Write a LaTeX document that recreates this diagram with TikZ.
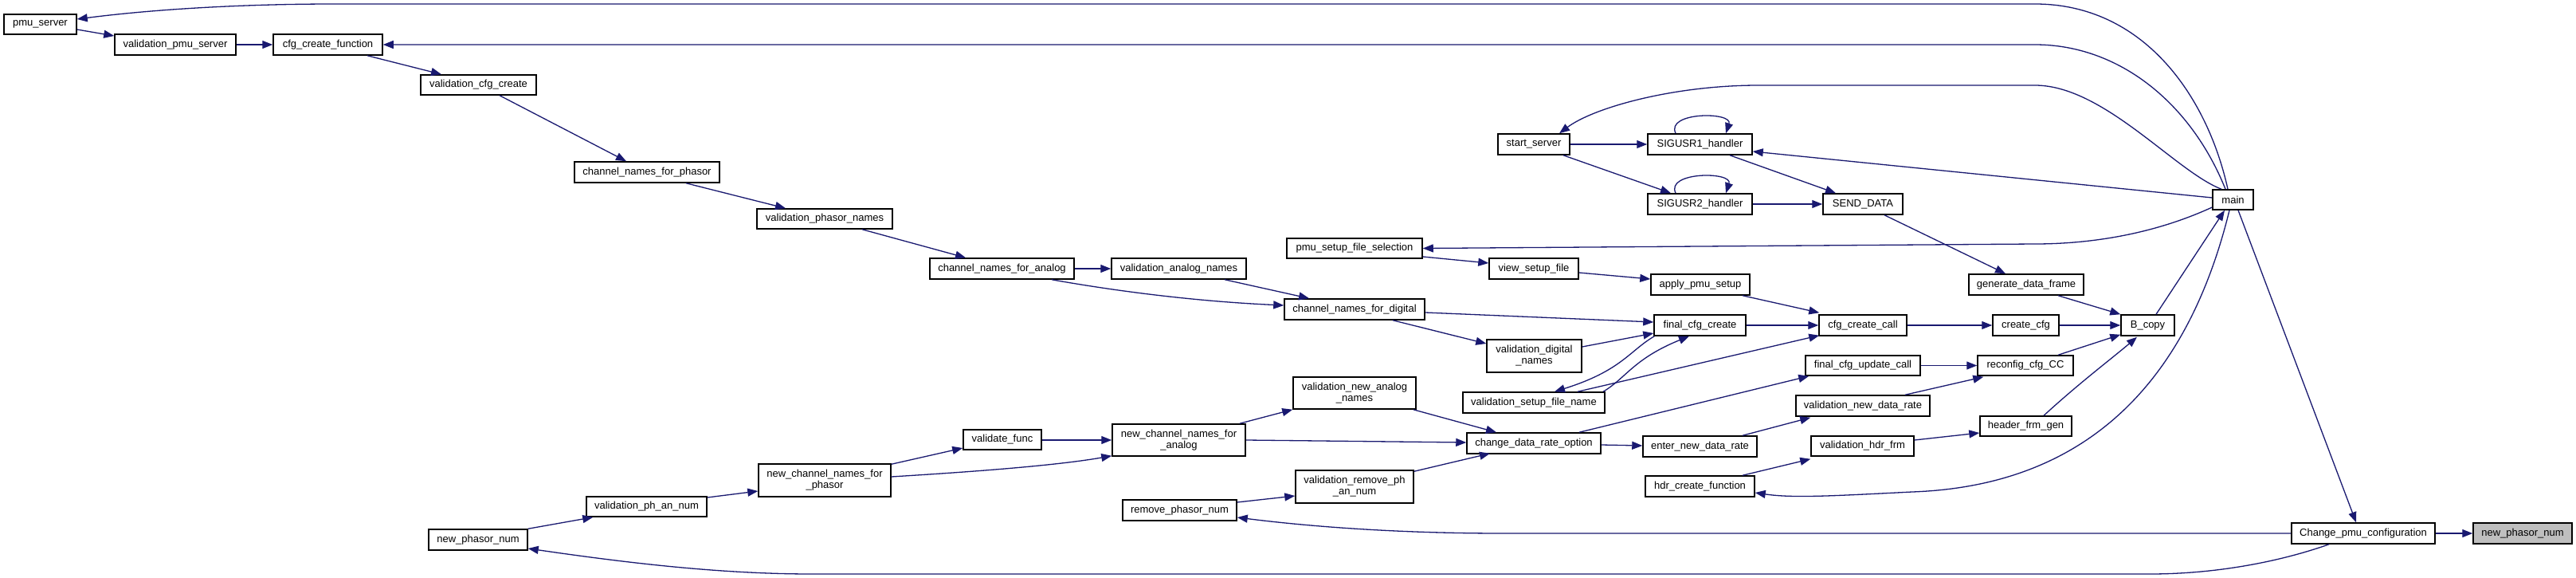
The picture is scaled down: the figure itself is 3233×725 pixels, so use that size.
\documentclass[tikz,border=0pt]{standalone}
\usepackage{fontspec}
\newfontfamily\dfont{Liberation Sans}
\usetikzlibrary{arrows.meta,calc}
\definecolor{edgeblue}{RGB}{25,25,112}
\definecolor{greyfill}{RGB}{191,191,191}
\begin{document}
\begin{tikzpicture}[x=1pt,y=-1pt,
  box/.style={draw=black, fill=white, line width=1.5pt, inner sep=0pt, align=center,
    font=\dfont\fontsize{13}{14}\selectfont},
  conn/.style={draw=edgeblue, line width=1.3pt, -{Triangle[length=13pt,width=10pt]}}]
\fill[white] (0,0) rectangle (3233,725);
\useasboundingbox (0,0) rectangle (3233,725);
% nodes
\node[box, minimum width=91pt, minimum height=25pt] (ps) at (50.5,30.5) {pmu\_server};
\node[box, minimum width=152pt, minimum height=26pt] (vps) at (220,56) {validation\_pmu\_server};
\node[box, minimum width=137pt, minimum height=26pt] (ccf) at (411.5,56) {cfg\_create\_function};
\node[box, minimum width=145pt, minimum height=25pt] (vcc) at (600.5,106.5) {validation\_cfg\_create};
\node[box, minimum width=182pt, minimum height=26pt] (cnp) at (812,216) {channel\_names\_for\_phasor};
\node[box, minimum width=170pt, minimum height=25pt] (vpn) at (1035,274.5) {validation\_phasor\_names};
\node[box, minimum width=181pt, minimum height=26pt] (cna) at (1257.5,337) {channel\_names\_for\_analog};
\node[box, minimum width=169pt, minimum height=26pt] (van) at (1479.5,337) {validation\_analog\_names};
\node[box, minimum width=176pt, minimum height=26pt] (cnd) at (1700,388) {channel\_names\_for\_digital};
\node[box, minimum width=119pt, minimum height=41pt] (vdn) at (1925.5,446.5) {validation\_digital\\\_names};
\node[box, minimum width=115pt, minimum height=26pt] (fcc) at (2133.5,408) {final\_cfg\_create};
\node[box, minimum width=110pt, minimum height=26pt] (ccc) at (2338,408) {cfg\_create\_call};
\node[box, minimum width=178pt, minimum height=26pt] (vsf) at (1925,505) {validation\_setup\_file\_name};
\node[box, minimum width=154pt, minimum height=40pt] (vna) at (1700,493) {validation\_new\_analog\\\_names};
\node[box, minimum width=168pt, minimum height=26pt] (cdr) at (1925,556) {change\_data\_rate\_option};
\node[box, minimum width=143pt, minimum height=26pt] (endr) at (2133.5,560) {enter\_new\_data\_rate};
\node[box, minimum width=137pt, minimum height=26pt] (hcf) at (2133.5,610) {hdr\_create\_function};
\node[box, minimum width=148pt, minimum height=41pt] (vrp) at (1700,610.5) {validation\_remove\_ph\\\_an\_num};
\node[box, minimum width=144pt, minimum height=25pt] (fcu) at (2338,458.5) {final\_cfg\_update\_call};
\node[box, minimum width=168pt, minimum height=26pt] (vnd) at (2338,509) {validation\_new\_data\_rate};
\node[box, minimum width=129pt, minimum height=25pt] (vhf) at (2337.5,559.5) {validation\_hdr\_frm};
\node[box, minimum width=90pt, minimum height=26pt] (ss) at (1925,181) {start\_server};
\node[box, minimum width=131pt, minimum height=26pt] (s1) at (2133.5,181) {SIGUSR1\_handler};
\node[box, minimum width=131pt, minimum height=26pt] (s2) at (2133.5,256) {SIGUSR2\_handler};
\node[box, minimum width=100pt, minimum height=26pt] (sd) at (2338,256) {SEND\_DATA};
\node[box, minimum width=170pt, minimum height=25pt] (psf) at (1700,311.5) {pmu\_setup\_file\_selection};
\node[box, minimum width=112pt, minimum height=26pt] (vsu) at (1925,337) {view\_setup\_file};
\node[box, minimum width=124pt, minimum height=26pt] (aps) at (2134,357) {apply\_pmu\_setup};
\node[box, minimum width=51pt, minimum height=25pt] (main) at (2802.5,250.5) {main};
\node[box, minimum width=144pt, minimum height=26pt] (gdf) at (2543,357) {generate\_data\_frame};
\node[box, minimum width=67pt, minimum height=26pt] (bc) at (2695.5,408) {B\_copy};
\node[box, minimum width=83pt, minimum height=26pt] (cc) at (2542.5,408) {create\_cfg};
\node[box, minimum width=120pt, minimum height=25pt] (rcc) at (2542,458.5) {reconfig\_cfg\_CC};
\node[box, minimum width=115pt, minimum height=25pt] (hfg) at (2542.5,534.5) {header\_frm\_gen};
\node[box, minimum width=180pt, minimum height=26pt] (cpc) at (2966,669) {Change\_pmu\_configuration};
\node[box, fill=greyfill, minimum width=124pt, minimum height=26pt] (npn) at (3166,669) {new\_phasor\_num};
\node[box, minimum width=151pt, minimum height=25pt] (vpa) at (811.5,635.5) {validation\_ph\_an\_num};
\node[box, minimum width=166pt, minimum height=41pt] (ncp) at (1035,602.5) {new\_channel\_names\_for\\\_phasor};
\node[box, minimum width=98pt, minimum height=25pt] (vf) at (1258,551.5) {validate\_func};
\node[box, minimum width=167pt, minimum height=40pt] (nca) at (1479.5,552) {new\_channel\_names\_for\\\_analog};
\node[box, minimum width=143pt, minimum height=26pt] (rpn) at (1480.5,640) {remove\_phasor\_num};
\node[box, minimum width=124pt, minimum height=26pt] (npl) at (600,677) {new\_phasor\_num};
% edges from main
\draw[conn] ($(main.north)+(-6.5,0)$) .. controls (2770,120) and (2690,5) .. (2554,5) -- (420,5) .. controls (300,5) and (190,12) .. ($(ps.east)+(0,-6.5)$);
\draw[conn] ($(main.north)+(-9.5,0)$) .. controls (2750,130) and (2660,56) .. (2554,56) -- (ccf.east);
\draw[conn] ($(main.north)+(-14.5,0)$) .. controls (2730,215) and (2640,107) .. (2554,107) -- (2207,107) .. controls (2100,107) and (2000,135) .. ($(ss.north)+(32,0)$);
\draw[conn] ($(main.west)+(0,-2.5)$) -- ($(s1.east)+(0,9)$);
\draw[conn] ($(main.west)+(0,9.5)$) .. controls (2700,295) and (2620,306) .. (2554,306) -- (psf.east);
\draw[conn] ($(bc.north)+(10.5,0)$) -- ($(main.south)+(-10.5,0)$);
\draw[conn] ($(main.south)+(6.5,0)$) -- ($(cpc.north)+(-9,0)$);
\draw[conn] ($(main.south)+(-4.5,0)$) .. controls (2740,500) and (2600,610) .. (2400,617) .. controls (2300,622) and (2250,625) .. ($(hcf.east)+(0,8)$);
% Change_pmu_configuration
\draw[conn] (cpc.east) -- (npn.west);
\draw[conn] (cpc.west) -- (1886,669) .. controls (1750,669) and (1640,660) .. ($(rpn.east)+(0,9)$);
\draw[conn] ($(cpc.south)+(-43,0)$) .. controls (2860,705) and (2780,720) .. (2698,720) -- (1019,720) .. controls (900,720) and (780,705) .. ($(npl.east)+(0,11)$);
% left chain
\draw[conn] ($(ps.east)+(0,6.5)$) -- ($(vps.west)+(0,-11)$);
\draw[conn] (vps.east) -- (ccf.west);
\draw[conn] ($(ccf.south)+(49.5,0)$) -- ($(vcc.north)+(-46.5,0)$);
\draw[conn] ($(vcc.south)+(26.5,0)$) -- ($(cnp.north)+(-26,0)$);
\draw[conn] ($(cnp.south)+(49,0)$) -- ($(vpn.north)+(-49,0)$);
\draw[conn] ($(vpn.south)+(47,0)$) -- ($(cna.north)+(-45.5,0)$);
\draw[conn] (cna.east) -- (van.west);
\draw[conn] ($(cna.south)+(62.5,0)$) .. controls (1400,365) and (1500,378) .. ($(cnd.west)+(0,-5)$);
\draw[conn] ($(van.south)+(57.5,0)$) -- ($(cnd.north)+(-57,0)$);
\draw[conn] ($(cnd.east)+(0,4)$) -- ($(fcc.west)+(0,-4)$);
\draw[conn] ($(cnd.south)+(48,0)$) -- ($(vdn.west)+(0,-15.5)$);
\draw[conn] ($(vdn.east)+(0,-11.5)$) -- ($(fcc.west)+(0,10)$);
\draw[conn] ($(fcc.south west)+(1,0)$) .. controls (2045,440) and (2035,465) .. ($(vsf.north)+(26,0)$);
\draw[conn] ($(vsf.north)+(87,0)$) .. controls (2040,475) and (2050,450) .. ($(fcc.south)+(-13.5,0)$);
\draw[conn] ($(vsf.north)+(55,0)$) -- ($(ccc.south west)+(1,-1)$);
\draw[conn] (fcc.east) -- (ccc.west);
\draw[conn] ($(aps.south)+(53,0)$) -- ($(ccc.north west)+(1,-2)$);
\draw[conn] ($(vsu.east)+(0,5)$) -- ($(aps.west)+(0,-7)$);
\draw[conn] ($(psf.east)+(0,10.5)$) -- ($(vsu.west)+(0,-7)$);
\draw[conn] (ccc.east) -- (cc.west);
\draw[conn] (cc.east) -- (bc.west);
\draw[conn] ($(gdf.south)+(40,0)$) -- (bc.north west);
\draw[conn] ($(sd.south)+(27,0)$) -- ($(gdf.north)+(-26,0)$);
\draw[conn] ($(s1.south)+(37.5,0)$) -- ($(sd.north)+(-34,0)$);
\draw[conn] (s2.east) -- (sd.west);
\draw[conn] (ss.east) -- (s1.west);
\draw[conn] ($(ss.south)+(37,0)$) -- ($(s2.north)+(-36.5,0)$);
\draw[conn] ($(s1.north)+(-30.5,0)$) .. controls (2090,140) and (2175,140) .. ($(s1.north)+(32.5,0)$);
\draw[conn] ($(s2.north)+(-30.5,0)$) .. controls (2090,215) and (2175,215) .. ($(s2.north)+(32.5,0)$);
\draw[conn] ($(rcc.north)+(41,0)$) -- ($(bc.south west)+(0,-2)$);
\draw[conn] (fcu.east) -- (rcc.west);
\draw[conn] ($(vnd.north)+(53,0)$) -- ($(rcc.south west)+(8,1)$);
\draw[conn] ($(hfg.north)+(22.5,0)$) .. controls (2610,480) and (2650,450) .. ($(bc.south)+(-13.5,1)$);
\draw[conn] ($(vhf.east)+(0,-7.5)$) -- ($(hfg.west)+(0,8.5)$);
\draw[conn] ($(hcf.north)+(53.5,0)$) -- ($(vhf.south west)+(0,3)$);
\draw[conn] ($(endr.north)+(53.5,0)$) -- ($(vnd.south west)+(19,1)$);
\draw[conn] ($(cdr.east)+(0,2)$) -- ($(endr.west)+(0,-1)$);
\draw[conn] ($(cdr.north)+(57,0)$) -- ($(fcu.south west)+(5,0)$);
\draw[conn] ($(vna.south east)+(-4,0)$) -- ($(cdr.north)+(-47,0)$);
\draw[conn] (nca.east) -- ($(cdr.west)+(0,-1)$);
\draw[conn] ($(vrp.north east)+(0,2)$) -- ($(cdr.south)+(-55,-1)$);
\draw[conn] ($(nca.north east)+(-8,0)$) -- (vna.south west);
\draw[conn] ($(vf.east)+(0,0.5)$) -- (nca.west);
\draw[conn] ($(ncp.north east)+(0,1)$) -- ($(vf.west)+(0,10.5)$);
\draw[conn] ($(ncp.east)+(0,-4.5)$) .. controls (1200,593) and (1320,585) .. ($(nca.south west)+(0,-1)$);
\draw[conn] ($(vpa.east)+(0,-11.5)$) -- ($(ncp.west)+(0,13.5)$);
\draw[conn] (npl.north east) -- ($(vpa.south west)+(9,0)$);
\draw[conn] ($(rpn.east)+(0,-10)$) -- ($(vrp.west)+(0,11.5)$);
\end{tikzpicture}
\end{document}
